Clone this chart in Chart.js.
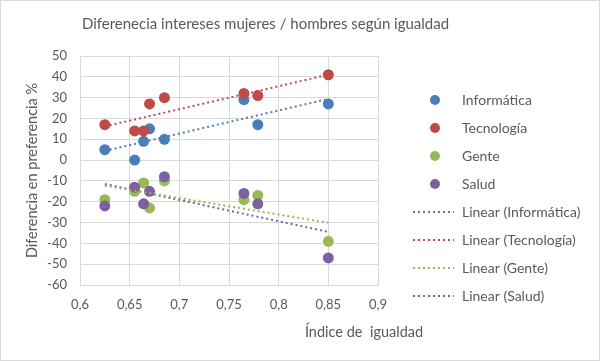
<!DOCTYPE html>
<html>
<head>
<meta charset="utf-8">
<script src="https://cdn.jsdelivr.net/npm/chart.js@4/dist/chart.umd.min.js"></script>
<style>
  html, body { margin: 0; padding: 0; background: #fff; }
  #wrap { width: 600px; height: 361px; }
</style>
</head>
<body>
<div id="wrap"><canvas id="chart" width="600" height="361"></canvas></div>
<script>
// datos
const indice = [0.625, 0.655, 0.664, 0.67, 0.685, 0.765, 0.779, 0.85];
const informatica = [5, 0, 9, 15, 10, 29, 17, 27];
const tecnologia = [17, 14, 14, 27, 30, 32, 31, 41];
const gente = [-19, -15, -11, -23, -10, -19, -17, -39];
const salud = [-22, -13, -21, -15, -8, -16, -21, -47];

// extremos de las lineas de tendencia
const trendX = [0.625, 0.85];
const trendInformatica = [4.4, 29.4];
const trendTecnologia = [16.2, 41.0];
const trendGente = [-12.3, -30.1];
const trendSalud = [-11.5, -34.5];

const seriesNames = ['Informática', 'Tecnología', 'Gente', 'Salud'];
const xTickLabels = ['0,6', '0,65', '0,7', '0,75', '0,8', '0,85', '0,9'];

const chartTitle = 'Diferenecia intereses mujeres / hombres según igualdad';
const xTitle = 'Índice de  igualdad';
const yTitle = 'Diferencia en preferencia %';

const COLORS = ['#4a7ebb', '#be4b48', '#98b954', '#7d60a0'];
const TEXT = '#595959';
const GRID = '#d9d9d9';
const FONT = 'Lato, "Open Sans", sans-serif';

const toPoints = (xs, ys) => xs.map((x, i) => ({ x, y: ys[i] }));

// iconos de la leyenda (circulo o linea punteada)
function legendIcon(color, kind) {
    const c = document.createElement('canvas');
    c.width = 63; c.height = 14;
    const g = c.getContext('2d');
    if (kind === 'dot') {
        g.fillStyle = color;
        g.beginPath();
        g.arc(43, 7, 5, 0, Math.PI * 2);
        g.fill();
    } else {
        g.strokeStyle = color;
        g.lineWidth = 2;
        g.setLineDash([2, 3]);
        g.beginPath();
        g.moveTo(21, 7);
        g.lineTo(62, 7);
        g.stroke();
    }
    return c;
}

const values = [informatica, tecnologia, gente, salud];
const trends = [trendInformatica, trendTecnologia, trendGente, trendSalud];

const datasets = [];
values.forEach((v, i) => {
    datasets.push({
        label: seriesNames[i],
        data: toPoints(indice, v),
        backgroundColor: COLORS[i],
        borderColor: COLORS[i],
        borderWidth: 0,
        pointRadius: 5.5,
        pointHoverRadius: 5.5,
        order: 5 - i,
        _icon: legendIcon(COLORS[i], 'dot')
    });
});
trends.forEach((t, i) => {
    datasets.push({
        label: 'Linear (' + seriesNames[i] + ')',
        data: toPoints(trendX, t),
        borderColor: COLORS[i],
        backgroundColor: COLORS[i],
        borderWidth: 2,
        borderDash: [2, 3],
        showLine: true,
        pointRadius: 0,
        pointHoverRadius: 0,
        order: 0,
        _icon: legendIcon(COLORS[i], 'line')
    });
});

const decorPlugin = {
    id: 'decor',
    afterInit(chart) {
        // ancho fijo para la leyenda, asi el area del grafico acaba en x=378
        const lg = chart.legend;
        if (lg) {
            const fit = lg.fit;
            lg.fit = function () { fit.call(this); this.width = 222; };
        }
    },
    beforeDraw(chart) {
        const ctx = chart.ctx;
        ctx.save();
        ctx.fillStyle = '#fff';
        ctx.fillRect(0, 0, chart.width, chart.height);
        ctx.restore();
    },
    afterDraw(chart) {
        const ctx = chart.ctx;
        ctx.save();
        ctx.fillStyle = TEXT;
        ctx.textAlign = 'center';
        ctx.textBaseline = 'middle';
        ctx.font = '15px ' + FONT;
        ctx.fillText(chartTitle, 265.5, 24);
        ctx.font = '14.5px ' + FONT;
        ctx.fillText(xTitle, 364, 332);
        ctx.strokeStyle = GRID;
        ctx.lineWidth = 1;
        ctx.strokeRect(0.5, 0.5, chart.width - 1, chart.height - 1);
        ctx.restore();
    }
};

new Chart(document.getElementById('chart'), {
    type: 'scatter',
    data: { datasets },
    plugins: [decorPlugin],
    options: {
        responsive: false,
        animation: false,
        events: [],
        layout: { padding: { top: 56, left: 0, right: 0, bottom: 0 } },
        plugins: {
            tooltip: { enabled: false },
            title: { display: false },
            legend: {
                position: 'right',
                align: 'start',
                title: {
                    display: true,
                    text: ' ',
                    font: { family: FONT, size: 12 },
                    padding: { top: 0, bottom: 8.6 }
                },
                labels: {
                    usePointStyle: true,
                    pointStyleWidth: 63,
                    padding: 14,
                    color: TEXT,
                    font: { family: FONT, size: 14 },
                    generateLabels(chart) {
                        return chart.data.datasets.map((ds, i) => ({
                            text: ds.label,
                            pointStyle: ds._icon,
                            fillStyle: ds.backgroundColor,
                            strokeStyle: ds.borderColor,
                            lineWidth: 0,
                            fontColor: TEXT,
                            hidden: false,
                            datasetIndex: i
                        }));
                    }
                }
            }
        },
        scales: {
            x: {
                type: 'linear',
                min: 0.6,
                max: 0.9,
                afterFit(scale) { scale.height = 76; },
                afterBuildTicks(scale) {
                    scale.ticks = xTickLabels.map((_, i) => ({ value: 0.6 + i * 0.05 }));
                },
                ticks: {
                    color: TEXT,
                    font: { family: FONT, size: 13 },
                    padding: 12,
                    maxRotation: 0,
                    callback: (v, i) => xTickLabels[i]
                },
                grid: { color: GRID, drawTicks: false },
                border: { color: GRID }
            },
            y: {
                min: -60,
                max: 50,
                afterFit(scale) { scale.width = 80; },
                ticks: {
                    stepSize: 10,
                    color: TEXT,
                    font: { family: FONT, size: 13 },
                    padding: 13
                },
                grid: { color: GRID, drawTicks: false },
                border: { color: GRID },
                title: {
                    display: true,
                    text: yTitle,
                    color: TEXT,
                    font: { family: FONT, size: 14.5 },
                    padding: { top: 23.3, bottom: 0 }
                }
            }
        }
    }
});
</script>
</body>
</html>
